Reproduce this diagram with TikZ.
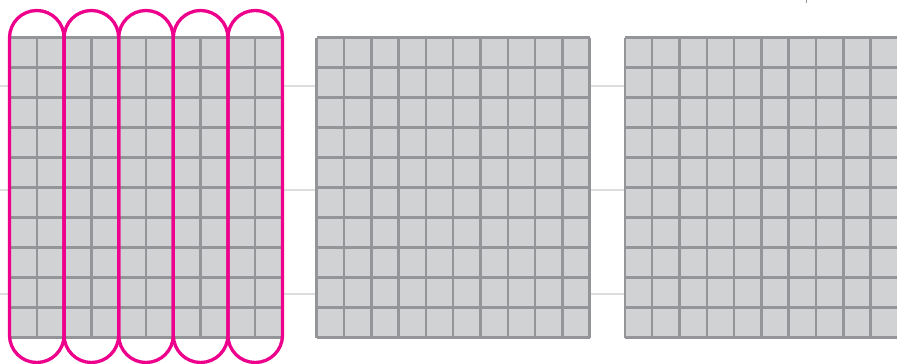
\documentclass[tikz,border=0pt]{standalone}
\usepackage{tikz}
\definecolor{cellgray}{HTML}{D1D2D4}
\definecolor{linegray}{HTML}{939598}
\definecolor{rulegray}{HTML}{DCDDDE}
\definecolor{loopmagenta}{HTML}{EC008C}
\tikzset{
  cellfill/.style={fill=cellgray},
  gridline/.style={draw=linegray, line width=2.5pt},
  ruleline/.style={draw=rulegray, line width=1.5pt},
  loopline/.style={draw=loopmagenta, line width=3.3pt, rounded corners=27.3pt},
}
\begin{document}
\begin{tikzpicture}[x=1pt,y=-1pt]
\useasboundingbox (0,0) rectangle (897,364);
% background rules
\draw[ruleline] (0,86)--(897,86);
\draw[ruleline] (0,190)--(897,190);
\draw[ruleline] (0,294)--(897,294);
\draw[linegray, line width=1pt] (806,0)--(806,3);

% three grids of 10 x 10
\foreach \gx in {9.5,316.7,624.9} {
\begin{scope}[xshift=\gx pt]
\fill[cellfill] (0,37.5) rectangle (273,337.5);
\foreach \i in {0,...,10}
  \draw[gridline] (27.3*\i,37.5)--(27.3*\i,337.5);
\foreach \j in {0,...,10}
  \draw[gridline] (0,37.5+30*\j)--(273,37.5+30*\j);
\end{scope}
}

% groups of two columns
\foreach \k in {0,...,4}
  \draw[loopline] (9.5+54.6*\k,10.5) rectangle (64.1+54.6*\k,362.5);
\end{tikzpicture}
\end{document}
